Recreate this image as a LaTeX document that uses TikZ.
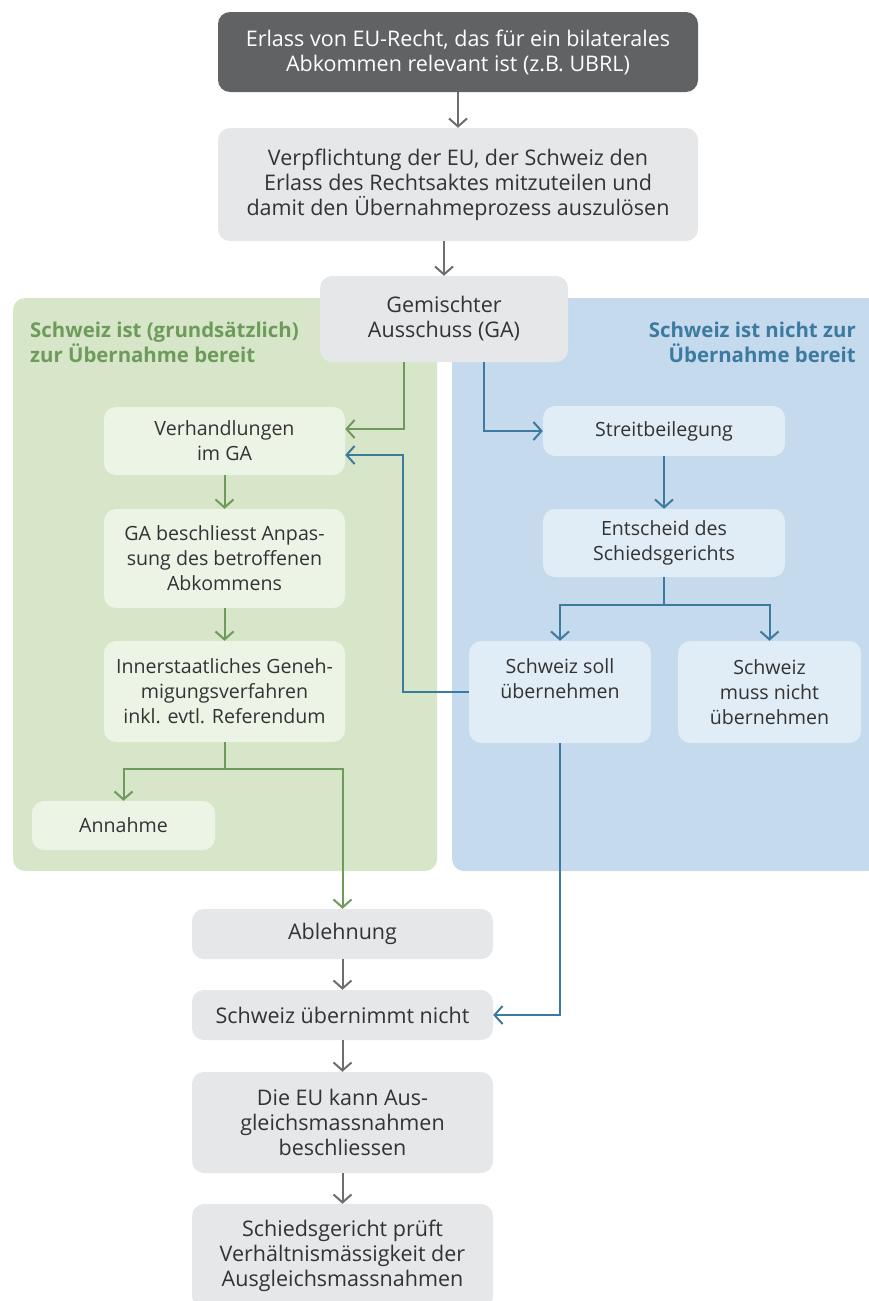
\documentclass[tikz,border=0pt]{standalone}
\usepackage{fontspec}
\setmainfont{Open Sans}
\usetikzlibrary{arrows.meta}
\definecolor{darkbox}{HTML}{616264}
\definecolor{greybox}{HTML}{E6E7E8}
\definecolor{greenpanel}{HTML}{D7E6C9}
\definecolor{greenbox}{HTML}{ECF4E6}
\definecolor{greenline}{HTML}{6E9A5C}
\definecolor{bluepanel}{HTML}{C5DAED}
\definecolor{bluebox}{HTML}{E0ECF6}
\definecolor{blueline}{HTML}{3D7AA0}
\definecolor{greyline}{HTML}{6D6E70}
\definecolor{textcol}{HTML}{333333}
\tikzset{
  box/.style={rounded corners=12pt, align=center, inner sep=0pt, text=textcol,
    font=\fontsize{19.6}{25}\selectfont},
  obox/.style={box, font=\fontsize{21.5}{25}\selectfont},
  gbox/.style={obox, fill=greybox},
  grbox/.style={box, fill=greenbox},
  blbox/.style={box, fill=bluebox},
  conn/.style={line width=2pt, -{Straight Barb[length=8pt,width=18pt,line width=2pt]}},
  gconn/.style={conn, draw=greyline},
  grconn/.style={conn, draw=greenline},
  blconn/.style={conn, draw=blueline},
  plain/.style={line width=2pt},
  heading/.style={font=\fontsize{20.4}{25}\selectfont\bfseries, inner sep=0pt}
}
\begin{document}
\begin{tikzpicture}[x=1pt,y=-1pt]
\useasboundingbox (0,0) rectangle (868,1301);
% panels
\fill[greenpanel, rounded corners=12pt] (13,298) rectangle (437,871);
\fill[bluepanel, rounded corners=12pt] (452,298) rectangle (880,871);
\node[heading, text=greenline, anchor=west, align=left] (hgreen) at (30,342) {Schweiz ist (grundsätzlich)\\zur Übernahme bereit};
\node[heading, text=blueline, anchor=east, align=right] (hblue) at (856,342) {Schweiz ist nicht zur\\Übernahme bereit};
% top boxes
\node[obox, fill=darkbox, text=white, minimum width=480pt, minimum height=80pt] (erlass) at (458,52) {Erlass von EU-Recht, das für ein bilaterales\\Abkommen relevant ist (z.B. UBRL)};
\node[gbox, minimum width=480pt, minimum height=113pt] (verpf) at (458,184.5) {Verpflichtung der EU, der Schweiz den\\Erlass des Rechtsaktes mitzuteilen und\\damit den Übernahmeprozess auszulösen};
\node[gbox, minimum width=248pt, minimum height=86pt] (ga) at (444,319) {Gemischter\\Ausschuss (GA)};
% green boxes
\node[grbox, minimum width=241pt, minimum height=68pt] (verh) at (224.5,441) {Verhandlungen\\im GA};
\node[grbox, minimum width=241pt, minimum height=99pt] (gab) at (224.5,558.5) {GA beschliesst Anpas-\\sung des betroffenen\\Abkommens};
\node[grbox, minimum width=241pt, minimum height=101pt] (inner) at (224.5,691.5) {Innerstaatliches Geneh-\\migungsverfahren\\inkl. evtl. Referendum};
\node[grbox, minimum width=183pt, minimum height=49pt] (annahme) at (123.5,825.5) {Annahme};
% blue boxes
\node[blbox, minimum width=242pt, minimum height=50pt] (streit) at (664,431) {Streitbeilegung};
\node[blbox, minimum width=242pt, minimum height=68pt] (entsch) at (664,543) {Entscheid des\\Schiedsgerichts};
\node[blbox, minimum width=182pt, minimum height=102pt] (soll) at (560,692) {};
\node[box] (solltxt) at (560,679) {Schweiz soll\\übernehmen};
\node[blbox, minimum width=183pt, minimum height=102pt] (muss) at (769.5,692) {Schweiz\\muss nicht\\übernehmen};
% bottom boxes
\node[gbox, minimum width=301pt, minimum height=50pt] (ablehn) at (342.5,934) {Ablehnung};
\node[gbox, minimum width=301pt, minimum height=50pt] (nicht) at (342.5,1015) {Schweiz übernimmt nicht};
\node[gbox, minimum width=301pt, minimum height=101pt] (eukann) at (342.5,1122.5) {Die EU kann Aus-\\gleichsmassnahmen\\beschliessen};
\node[gbox, minimum width=301pt, minimum height=104pt] (schied) at (342.5,1256) {Schiedsgericht prüft\\Verhältnismässigkeit der\\Ausgleichsmassnahmen};
% grey connectors
\draw[gconn] (erlass) -- (verpf);
\draw[gconn] (verpf.south -| ga.north) -- (ga.north);
\draw[gconn] (ablehn.south) -- (nicht.north);
\draw[gconn] (nicht.south) -- (eukann.north);
\draw[gconn] (eukann.south) -- (schied.north);
% green connectors
\draw[grconn] (ga.south -| 404,0) |- (verh.east |- 0,429);
\draw[grconn] (verh.south) -- (gab.north);
\draw[grconn] (gab.south) -- (inner.north);
\coordinate (isplit) at (224.5,769);
\draw[plain, draw=greenline] (inner.south) -- (isplit);
\draw[grconn] (isplit) -| (annahme.north);
\draw[grconn] (isplit) -| (ablehn.north);
% blue connectors
\draw[blconn] (ga.south -| 484,0) |- (streit.west);
\draw[blconn] (soll.west) -- ++(-66,0) |- (verh.east |- 0,455);
\draw[blconn] (streit.south) -- (entsch.north);
\coordinate (esplit) at (664,605);
\draw[plain, draw=blueline] (entsch.south) -- (esplit);
\draw[blconn] (esplit) -| (soll.north);
\draw[blconn] (esplit) -| (muss.north);
\draw[blconn] (soll.south) |- (nicht.east);
\end{tikzpicture}
\end{document}
